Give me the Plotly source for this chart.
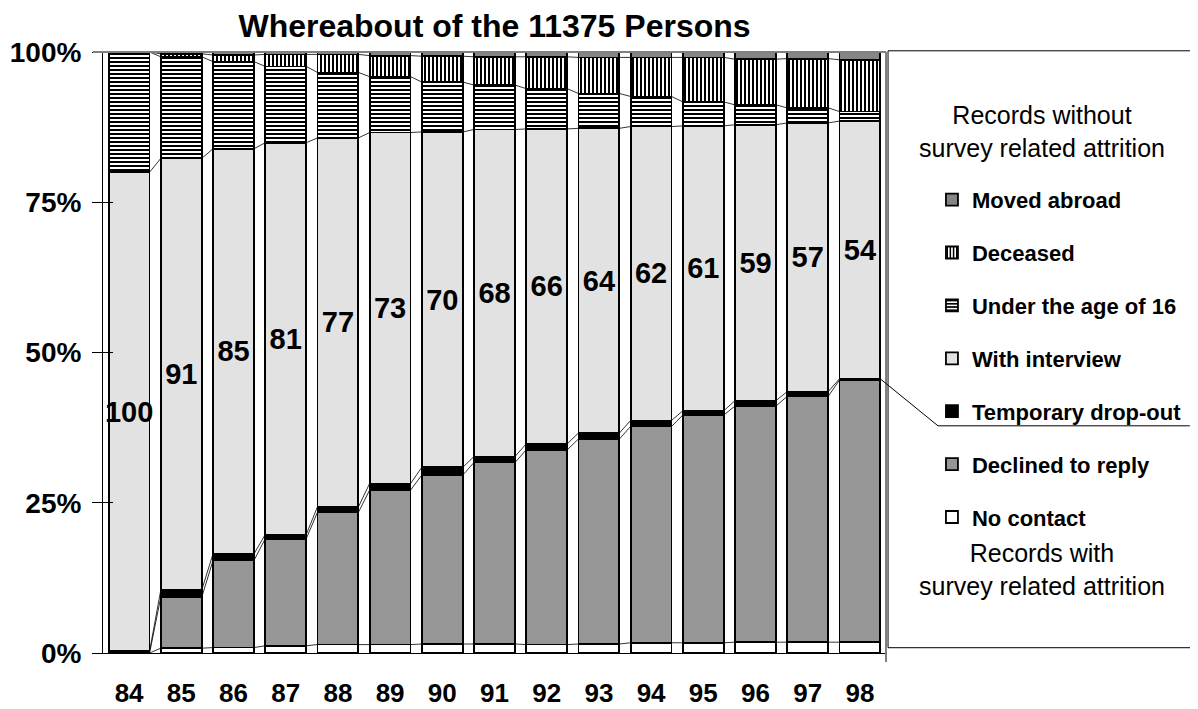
import plotly.graph_objects as go

years = ["84", "85", "86", "87", "88", "89", "90", "91", "92", "93", "94", "95", "96", "97", "98"]
no_contact = [0, 0.8, 0.9, 1.2, 1.4, 1.4, 1.5, 1.5, 1.4, 1.5, 1.7, 1.7, 1.8, 1.8, 1.8]
declined = [0, 8.5, 14.5, 17.8, 22.0, 25.7, 28.1, 30.2, 32.4, 34.1, 36.0, 37.9, 39.3, 40.9, 43.6]
temp_dropout = [0.3, 1.2, 1.1, 0.7, 0.9, 1.1, 1.3, 1.0, 1.0, 1.0, 1.0, 0.7, 0.9, 0.8, 0.2]
with_interview = [79.7, 71.8, 67.4, 65.2, 61.4, 58.4, 55.8, 54.4, 52.4, 50.7, 48.9, 47.4, 45.9, 44.7, 42.9]
under_16 = [20.0, 16.9, 14.5, 12.7, 10.9, 9.3, 8.3, 7.4, 6.7, 5.8, 5.0, 4.0, 3.3, 2.5, 1.6]
deceased = [0, 0.5, 1.1, 2.0, 3.0, 3.5, 4.3, 4.7, 5.3, 6.0, 6.5, 7.4, 7.6, 8.2, 8.6]
moved_abroad = [0, 0.3, 0.5, 0.4, 0.4, 0.6, 0.7, 0.8, 0.8, 0.9, 0.9, 0.9, 1.2, 1.1, 1.3]
interview_index = [100, 91, 85, 81, 77, 73, 70, 68, 66, 64, 62, 61, 59, 57, 54]
y_ticks = [0, 25, 50, 75, 100]
y_ticklabels = ["0%", "25%", "50%", "75%", "100%"]

FONT = "Liberation Sans, Arial, sans-serif"
x = list(range(len(years)))
bar_w = 0.785
hw = bar_w / 2

series = [
    ("No contact", no_contact, dict(color="white")),
    ("Declined to reply", declined, dict(color="#969696")),
    ("Temporary drop-out", temp_dropout, dict(color="black")),
    ("With interview", with_interview, dict(color="#e2e2e2")),
    ("Under the age of 16", under_16, dict(color="white", pattern=dict(shape="-", fgcolor="black", bgcolor="white", fgopacity=1, size=4, solidity=0.5))),
    ("Deceased", deceased, dict(color="white", pattern=dict(shape="|", fgcolor="black", bgcolor="white", fgopacity=1, size=4, solidity=0.5))),
    ("Moved abroad", moved_abroad, dict(color="#858585")),
]

fig = go.Figure()
n = len(series)
for k, (name, vals, mk) in enumerate(series):
    mk = dict(mk)
    mk["line"] = dict(color="black", width=1.8)
    kw = {}
    if name == "With interview":
        kw = dict(text=[str(v) for v in interview_index], textposition="inside",
                  insidetextanchor="middle", constraintext="none", textangle=0,
                  textfont=dict(family=FONT, size=29, color="black", weight="bold"))
    fig.add_trace(go.Bar(x=x, y=vals, name=name, marker=mk, width=bar_w,
                         legendgroup=name, legendrank=n - k, hoverinfo="skip", **kw))

# series lines connecting segment tops between adjacent bars
cum = [0.0] * len(x)
for name, vals, mk in series:
    cum = [c + v for c, v in zip(cum, vals)]
    lx, ly = [], []
    for i in range(len(x) - 1):
        lx += [x[i] + hw, x[i + 1] - hw, None]
        ly += [cum[i], cum[i + 1], None]
    fig.add_trace(go.Scatter(x=lx, y=ly, mode="lines", line=dict(color="black", width=0.8),
                             showlegend=False, hoverinfo="skip"))

# cumulative top of survey-related attrition for the last wave
attr_top = no_contact[-1] + declined[-1] + temp_dropout[-1]
xr = [-0.5, len(x) - 0.5]
px_last = (x[-1] + hw - xr[0]) / (xr[1] - xr[0])

fig.update_layout(
    width=1190, height=701,
    margin=dict(l=95, r=312, t=44, b=56, autoexpand=False),
    paper_bgcolor="white", plot_bgcolor="white",
    barmode="stack",
    title=dict(text="Whereabout of the 11375 Persons", x=0.5, xref="paper", xanchor="center",
               y=1 - 18 / 701, yref="container", yanchor="middle",
               font=dict(family=FONT, size=32, color="black", weight="bold")),
    xaxis=dict(range=xr, tickvals=x, ticktext=years, showgrid=False, zeroline=False,
               showline=True, linecolor="black", linewidth=1, ticks="", ticklabelstandoff=17,
               automargin=False,
               tickfont=dict(family=FONT, size=26, color="black", weight="bold")),
    yaxis=dict(range=[0, 100], tickvals=y_ticks, ticktext=y_ticklabels,
               showgrid=False, zeroline=False,
               showline=True, linecolor="black", linewidth=1, ticks="outside", ticklen=10,
               tickcolor="black", ticklabelstandoff=5, automargin=False,
               minor=dict(tickvals=y_ticks, ticks="inside", ticklen=10, tickcolor="black",
                          showgrid=False),
               tickfont=dict(family=FONT, size=28, color="black", weight="bold")),
    legend=dict(x=1.0587, xanchor="left", y=0.789, yanchor="top",
                traceorder="grouped", tracegroupgap=21.3,
                bgcolor="rgba(0,0,0,0)", borderwidth=0,
                font=dict(family=FONT, size=22, color="black", weight="bold")),
    showlegend=True,
    shapes=[
        dict(type="rect", xref="paper", yref="paper", x0=1.0026, x1=1.397, y0=0.0088, y1=1.002,
             line=dict(color="black", width=1), layer="below"),
        dict(type="line", xref="paper", yref="paper", x0=-0.013, x1=1.0, y0=1, y1=1,
             line=dict(color="#808080", width=2), layer="above"),
        dict(type="line", xref="paper", yref="paper", x0=1.0, x1=1.0, y0=-0.015, y1=1,
             line=dict(color="#808080", width=2), layer="above"),
        dict(type="line", xref="paper", yref="y", x0=px_last, x1=1.0664, y0=attr_top, y1=37.8,
             line=dict(color="black", width=1), layer="above"),
        dict(type="line", xref="paper", yref="y", x0=1.0664, x1=1.388, y0=37.8, y1=37.8,
             line=dict(color="black", width=1), layer="above"),
    ],
    annotations=[
        dict(text="Records without<br>survey related attrition", xref="paper", yref="paper",
             x=1.1992, y=0.868, showarrow=False, xanchor="center", yanchor="middle",
             font=dict(family=FONT, size=25, color="black")),
        dict(text="Records with<br>survey related attrition", xref="paper", yref="paper",
             x=1.1992, y=0.1386, showarrow=False, xanchor="center", yanchor="middle",
             font=dict(family=FONT, size=25, color="black")),
    ],
)

fig.write_html("out.html")
